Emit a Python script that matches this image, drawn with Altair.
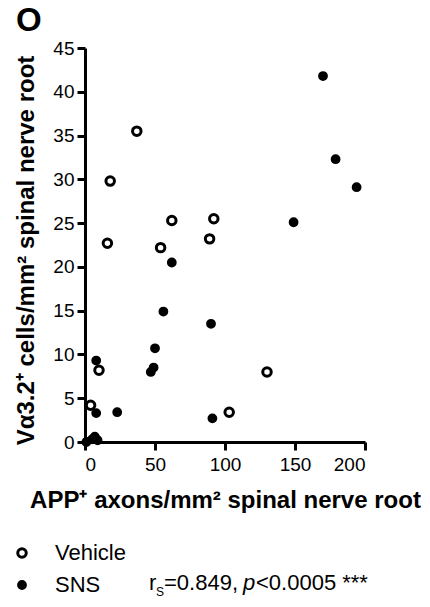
import altair as alt
import pandas as pd

# ---- data ----
groups = ["Vehicle", "SNS"]

veh_x = [37, 18, 16, 62, 54, 92, 89, 10, 4, 130, 103]
veh_y = [35.5, 29.8, 22.7, 25.3, 22.2, 25.5, 23.2, 8.2, 4.2, 8.0, 3.4]

sns_x = [170, 179, 194, 149, 62, 56, 50, 49, 47, 90, 91, 8, 8, 23, 7, 5, 9, 1]
sns_y = [41.8, 32.3, 29.1, 25.1, 20.5, 14.9, 10.7, 8.5, 8.0, 13.5, 2.7, 9.3, 3.3, 3.4, 0.6, 0.3, 0.2, 0.0]

x_ticks = [0, 50, 100, 150, 200]
y_ticks = [0, 5, 10, 15, 20, 25, 30, 35, 40, 45]

x_title = "APP⁺ axons/mm² spinal nerve root"
y_title = "Vα3.2⁺ cells/mm² spinal nerve root"
panel_label = "O"
stat_parts = ["r", "S", "=0.849,", "p", "<0.0005 ***"]

FONT = "Liberation Sans"

df = pd.DataFrame({
    "x": veh_x + sns_x,
    "y": veh_y + sns_y,
    "group": [groups[0]] * len(veh_x) + [groups[1]] * len(sns_x),
})

legend = alt.Legend(
    title=None, orient="none", legendX=-74, legendY=494, padding=0,
    labelFont=FONT, labelFontSize=22, labelColor="black", labelOffset=22,
    rowPadding=10, symbolStrokeColor="black", symbolStrokeWidth=3,
)

axis_style = dict(
    grid=False, domainColor="black", domainWidth=3, tickColor="black",
    tickWidth=3, tickSize=8, labelColor="black", labelFont=FONT,
    labelFontSize=19, titleColor="black", titleFont=FONT,
    titleFontSize=24, titleFontWeight="bold", titleLimit=1000,
)

points = alt.Chart(df).mark_point(
    filled=True, shape="circle", stroke="black", strokeWidth=3, opacity=1
).encode(
    x=alt.X("x:Q", scale=alt.Scale(domain=[0, 200], nice=False),
            axis=alt.Axis(values=x_ticks, title=x_title, titlePadding=14,
                          labelPadding=5, **axis_style)),
    y=alt.Y("y:Q", scale=alt.Scale(domain=[0, 45], nice=False),
            axis=alt.Axis(values=y_ticks, title=y_title,
                          titleX=-52, titleY=202, titleAngle=270,
                          titleAlign="center", titleBaseline="alphabetic",
                          labelPadding=3, **axis_style)),
    fill=alt.Fill("group:N", scale=alt.Scale(domain=groups, range=["white", "black"]), legend=legend),
    stroke=alt.Stroke("group:N", scale=alt.Scale(domain=groups, range=["black", "black"]), legend=legend),
    size=alt.Size("group:N", scale=alt.Scale(domain=groups, range=[72, 46]), legend=legend),
)

def txt(s, xpix, ypix, size=22, style="normal"):
    return alt.Chart(pd.DataFrame({"t": [s]})).mark_text(
        align="left", baseline="alphabetic", font=FONT, fontSize=size,
        fontStyle=style, color="black"
    ).encode(text="t:N", x=alt.value(xpix), y=alt.value(ypix))

stats = (
    txt(stat_parts[0], 149 - 85, 542)
    + txt(stat_parts[1], 156 - 85, 548, size=12)
    + txt(stat_parts[2], 164 - 85, 542)
    + txt(stat_parts[3], 243 - 85, 542, style="italic")
    + txt(stat_parts[4], 256 - 85, 542)
)

chart = alt.layer(points, stats).properties(
    width=280, height=394,
    autosize=alt.AutoSizeParams(type="none"),
    padding={"left": 85, "top": 48, "right": 65, "bottom": 165},
    title=alt.TitleParams(panel_label, anchor="start", frame="group", dx=-69,
                          offset=1, font=FONT, fontSize=33, fontWeight="bold",
                          color="black"),
).configure_view(stroke=None)

chart.save("out.html", embed_options={"renderer": "svg", "actions": False})
